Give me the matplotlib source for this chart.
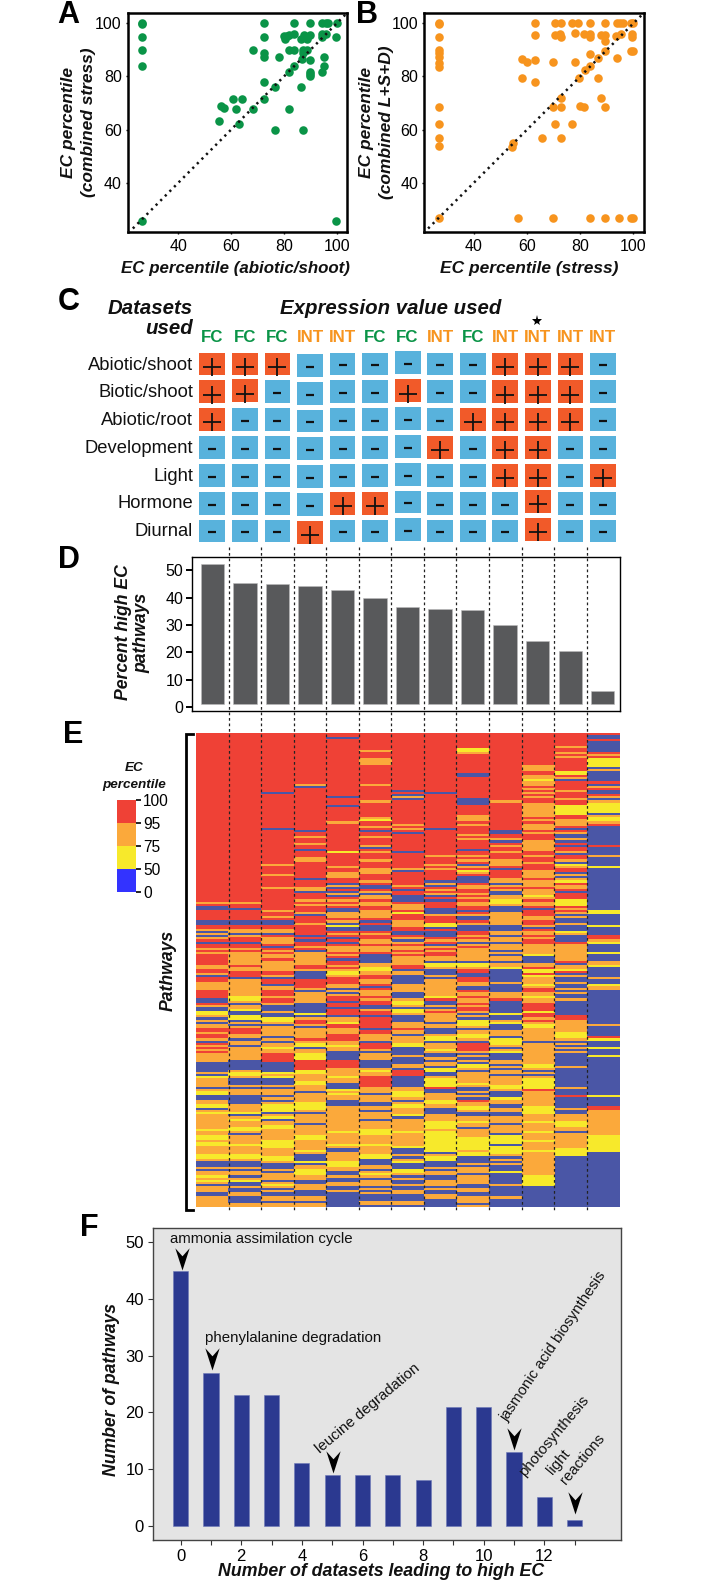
import numpy as np
import matplotlib
matplotlib.use("Agg")
import matplotlib.pyplot as plt
from matplotlib.colors import ListedColormap
from matplotlib.path import Path
from matplotlib.patches import Rectangle

plt.rcParams["font.family"] = ["Liberation Sans", "DejaVu Sans"]

# Panel A
a_x = [26.1, 26.1, 26.1, 26.1, 26.1, 26.1, 99.7, 72.3, 72.3, 68.4, 72.3, 72.3, 78.3, 72.3, 76.8, 72.3,
       68.4, 76.8, 87.4, 62.9, 82, 86.4, 60.8, 64.1, 56, 57.3, 55.3, 62, 84, 90, 94.4, 96, 96.6, 100, 99.8,
       80, 81, 80.4, 84, 82, 86.4, 87.6, 88.9, 90, 94.4, 94.4, 96, 82, 84, 87.4, 88.6, 87.4, 86.7, 89.9,
       95, 95, 94.3, 89.9, 89.9, 89.9, 84, 82]
a_y = [100, 99.7, 95, 90, 84, 25.7, 25.7, 100, 95, 90, 89, 87.2, 87.5, 78, 76, 71.5,
       67.6, 60, 60, 62, 67.6, 76, 71.5, 71.5, 69, 68.1, 63.2, 67.6, 100, 100, 100, 100, 100, 100, 95,
       95.4, 95.4, 94, 95.9, 95.6, 94, 95.6, 94, 95.6, 96, 94.7, 96, 90, 90, 90, 90, 88.7, 86.4, 86.2,
       87.5, 84, 81.8, 81.8, 81, 80, 84, 81.8]

# Panel B
b_x = [27, 27, 27, 27, 27, 27, 27, 27, 27, 27, 27, 27, 27,
       56.4, 69.7, 83.5, 89.4, 94.6, 99, 100,
       63.1, 70.5, 72.6, 76.8, 79.3, 83.5, 89.3, 93.7, 95, 96.2, 99, 100,
       63.1, 70.5, 72.4, 72.8, 78, 81.5, 83.5, 83.5, 88, 89.3, 89.3, 93.5, 95.2, 99.6, 99.6,
       89.3, 99, 100, 83.5, 93.7, 86.8, 83.5, 81.8, 79.5, 86.8,
       58, 59.8, 63.1, 69.7, 78, 58, 63.1,
       72.8, 88, 69.7, 72.8, 79.9, 81.5, 89.3,
       70.5, 76.8, 65.7, 72.6, 54.7, 54.4]
b_y = [100, 99.7, 95, 90, 88.7, 87.2, 85.2, 83.7, 68.6, 62, 56.7, 53.8, 26.5,
       26.5, 26.5, 26.5, 26.5, 26.5, 26.5, 26.5,
       100, 100, 100, 100, 100, 100, 100, 100, 100, 100, 100, 100,
       95.6, 95.6, 95.9, 94.7, 96.2, 95.9, 95.9, 94.7, 95.6, 95.6, 93.5, 95.4, 96, 96, 94.7,
       89.7, 89.7, 89.7, 88.5, 86.8, 86.8, 84, 82.5, 79.3, 79.3,
       86.7, 85.6, 86.2, 85.6, 85.6, 79.3, 78,
       72, 72, 68.6, 68.6, 69, 68.6, 68.6,
       62, 62, 56.7, 56.7, 54.8, 53.3]

# Panel C
column_types = ["FC", "FC", "FC", "INT", "INT", "FC", "FC", "INT", "FC", "INT", "INT", "INT", "INT"]
dataset_names = ["Abiotic/shoot", "Biotic/shoot", "Abiotic/root", "Development", "Light", "Hormone", "Diurnal"]
abiotic_shoot = "+++------+++-"
biotic_shoot = "++----+--+++-"
abiotic_root = "+-------++++-"
development = "-------+-++--"
light = "---------++-+"
hormone = "----++----+--"
diurnal = "---+------+--"
dataset_rows = [abiotic_shoot, biotic_shoot, abiotic_root, development, light, hormone, diurnal]

# Panel D
percent_high = [52.5, 45.5, 45.1, 44.2, 43, 40, 36.5, 36, 35.5, 30, 24, 20.5, 6]

# Panel E, rows of each column written as colour runs (R >95, O >75, Y >50, B rest)
heat_top = [
    "R80 O1 R1 B2 R5 B2 R2 O1 B1 O1 B1 O1 R1 B1 R2 O1 R1 O1 R3",
    "R80 O1 R2 B1 R5 B2 R2 O2 B1 O1 R2 B1 R2 O1 R1 O4",
    "R28 B1 R16 B1 R16 O1 R4 O1 R5 O1 R10 O1 R2 O1 R1 B2 R2 O2 B1 R1 O3 R1 B1 R1 O1 R1 O2 R1 O3",
    "R24 O1 B1 R20 B1 R2 O1 R2 O1 R2 B1 R3 O2 R8 B1 R3 O1 O1 B1 R3 O1 R1 O1 R3 O1 B1 R3 O1 R5 B1 R1 B1 R2 O1 R1 B1 O4",
    "R2 B1 R27 B1 R3 B1 R7 O1 R13 Y1 R6 O1 R2 O3 R2 B1 O1 B1 R1 B1 O1 B1 R1 O1 R1 O1 R1 B2 O3 R1 O1 B1 Y1 B2 R1 O1 R1 B1 R1 B1 R1 O3 R1 O1 R1 B1 R1 O2",
    "R8 O1 R3 O3 R9 O1 R7 O1 R7 O1 Y1 R2 O1 R1 B1 R2 O1 R3 O1 B1 R1 O1 R3 O1 R3 O3 R3 O1 R1 B2 R1 O1 B1 O2 R1 O2 R2 O4 R1 B1 R1 B3 R1 O1 R2 O2 R1 O3 R1 B3",
    "R27 B1 R1 B1 O1 B1 R11 O1 R1 O1 R1 B1 R8 B1 R7 O1 B1 R6 O1 R1 B1 R2 B3 R1 O3 R1 Y1 R3 O3 R2 B2 R1 O1 B1 O1 R1 O2 R1 O1 R1 O3 R1 O1 R1 O3",
    "R28 B1 R16 B1 R12 O1 R3 O1 R1 O1 R5 B1 O1 B1 R1 O1 R1 O1 B1 R1 B1 R3 B3 O1 R3 Y2 B1 R1 B3 R1 O1 R1 B1 O1 R1 O1 R2 O3 R1 O1 R1 B1 O1 R1 Y2",
    "R7 Y2 O1 R9 B2 R10 B3 R5 O3 R1 O1 R4 O1 R1 O1 R4 B1 R2 O1 R1 O1 R1 B1 O1 R1 Y1 O1 R1 B3 R1 O1 O1 R2 O1 R1 O1 R1 O1 O1 R2 B1 R1 O1 B2 R1 O1 B3 R2 O1 R1 O1 B1 O1 R1 O1",
    "R32 O1 R13 B2 R2 O1 B1 R1 O1 R2 O1 R3 O3 R1 B1 R4 O2 B1 O1 R1 O1 B2 O2 Y2 O1 B3 O6 B3 O2 B1 O2 B1 O3 B1 O1 B1 O3",
    "R15 O3 R2 O2 Y1 O2 R1 O1 R1 O1 R1 O1 R2 O7 R1 O1 R1 O3 R1 O1 R3 O5 R2 O1 R2 O1 R3 O4 R1 O3 R1 O1 O2 Y1 O1 R1 O2 R1 B1 R3 O2 R2 O1 B1 R1 O2 R1 O1 R2 O5 Y1 B2",
    "R6 O1 R2 O1 R1 O1 R6 Y2 R1 O1 B1 R4 O1 R3 O1 R2 Y5 R2 O3 R1 B1 R1 O1 B2 O1 B1 R1 B1 R2 O1 B1 R2 O1 B1 Y1 O1 R2 B1 O1 B1 O1 Y1 R1 O2 R1 B1 R3 Y3 R1 O1 R1 O1 B1 O1 B2 O1 B3 Y1 O1 B3 R1 O2",
    "R1 B2 R1 B5 R1 O1 R1 Y4 B1 O1 B5 R1 B1 O1 R1 B2 R1 O1 B1 O1 Y5 B1 O1 Y2 O1 R1 B9 R1 B4 O1 B4 Y1 B20 Y2 B5 Y1 B4 R2 O1 Y1 B4 Y1 B3",
]
heat_bottom = [
    "R2 O2 R2 O1 B1 R2 O4 R4 B2 R1 O1 B2 Y2 O1 B1 O1 B1 O2 R2 O1 R2 O1 B1 R1 O1 R1 O1 R1 O4 B5 O1 B1 Y1 O1 O3 B1 O1 Y2 B2 O2 Y2 B1 O1 Y1 O7 Y1 O2 Y2 O1 Y2 O4 Y2 O1 B3 O1 B1 O2 Y1 O1 Y1 O1 B1 O3 B2 O2",
    "O2 R1 O2 R3 B1 O2 O5 O1 Y2 O1 B1 O2 Y1 B2 Y2 B1 O1 B1 O1 R3 O2 B1 O2 B1 O6 B5 O1 Y2 O1 B3 O1 B1 O3 B3 B1 O3 O1 Y1 B1 O1 Y1 O3 Y2 O1 B1 O4 Y1 O4 Y2 O1 B3 O1 B1 O2 B1 O1 Y1 B2 O1 B2 O2 B3 O3 B2 O1 B1 O1 B1 O1 B2",
    "O5 R2 O1 B1 R2 B1 O2 R3 O1 R2 O1 B3 O1 B2 Y2 O1 B1 O5 B1 O1 B1 O2 Y1 O2 R4 B5 Y1 O1 Y1 B3 O1 B1 O3 B1 O1 B1 O1 Y4 B1 O1 Y1 B1 O2 Y2 O2 O3 Y4 O4 Y2 O1 B3 O1 B1 O3 B1 O1 Y1 O1 B1 O1 B2 O2 B1 O3 B2 O1 B1 O4",
    "O2 R2 O1 B4 R4 O1 B1 O5 B5 Y1 B1 O1 R2 O1 B1 O5 R1 O1 Y2 B1 O2 Y3 R5 Y2 O3 Y2 O3 B1 O2 O2 Y4 O1 B1 O4 B1 O5 Y2 O5 Y1 O1 B3 Y1 B1 O2 Y3 O2 B2 O2 O1 B1 B2 O2 B1 O2 B2 O1 B2",
    "R2 O1 R1 O1 Y2 O1 R3 O2 B1 O1 B1 O1 R2 B1 R2 B1 R2 R1 B1 O2 Y1 R2 O3 R3 O1 O1 Y1 O2 B4 R4 O4 Y1 O2 B3 Y1 O1 Y1 O1 O1 B3 O1 O3 O8 Y1 O5 Y1 O1 B2 O4 Y3 O2 B2 O1 B2 O2 B2 O1 B2 B1",
    "B1 O2 Y2 O2 R2 O2 R1 B1 R1 O3 R1 O1 R2 B2 O1 R2 B1 R3 R2 B1 R2 O3 B1 R3 O1 B1 O3 B4 O1 Y1 O2 R5 O3 B1 O2 O1 B2 O2 B1 O1 O2 B1 O1 O3 Y3 O4 Y1 O4 Y2 B3 O2 B1 O1 Y1 O1 B1 O3 B1 O1 B1 O1 B3 O2 B2 O5",
    "O2 R2 B1 O2 B4 O4 B3 O1 Y2 O1 B1 Y2 O1 B3 O3 R1 O2 B1 O3 Y2 B4 O1 B1 B2 O2 B1 R3 B5 O2 Y3 O1 B1 O1 Y2 O3 Y1 B1 O1 O5 Y1 O6 Y1 B3 O1 B1 O1 Y1 B3 Y2 O1 B1 O1 B2 O1 B2 O2 B3 O2 B2 B6",
    "B1 Y2 O1 B3 O1 B1 O3 O5 Y1 R1 B2 O1 B1 O1 R1 O4 B1 O2 B3 O1 Y2 B1 O3 Y1 O1 B2 O1 B1 O2 B1 Y2 B2 O1 Y4 R1 B2 O3 Y2 O2 B3 O3 Y4 O1 Y10 B1 O1 Y2 B3 O1 B1 O1 O1 B2 O3 B1 O1 B2 O2 B7",
    "B1 Y2 O1 R2 B2 R2 O2 B2 R1 O2 R1 O2 R1 O1 R2 O1 B1 O1 B1 Y3 O1 B1 O2 Y2 O1 B1 R4 O1 B1 O1 B1 O1 B1 Y2 O1 B1 O1 O4 Y1 O1 B2 O1 B1 O1 B1 R1 O2 Y2 O1 B2 O2 Y1 O2 B1 O4 Y6 O1 Y2 B3 O1 B1 O3 B1 O4 B2 O2 B2 O3 B1 O3",
    "B1 O2 Y1 B6 O1 B4 O3 R1 B6 Y1 B2 O1 Y1 B3 O3 B1 Y3 O1 B1 O1 Y1 B3 O2 B1 O1 B1 O2 B1 O1 O2 O1 Y2 O1 B3 Y1 O2 B2 O2 B2 O3 B1 O1 O3 B1 Y4 B1 Y4 O1 B1 O1 B1 O1 B3 Y1 B5 O1 B5 O1 B1 B12",
    "B1 O2 R1 Y2 R1 Y1 O3 Y1 O1 R2 O2 Y1 O2 R1 R3 Y1 R2 O1 R1 O1 Y2 O6 B1 O1 O9 Y2 O1 B1 O1 B1 O1 Y5 R1 O7 Y4 O3 Y1 O4 Y1 O3 Y1 O4 Y1 O4 O7 Y5 B7",
    "R1 B1 O2 Y1 R1 B1 O1 B2 O1 B2 O1 B1 O1 B2 O1 B7 R2 O5 O1 Y3 O1 B1 O1 B1 O1 B1 O1 B6 O1 B9 O1 B3 R1 B5 O1 B2 O3 Y3 O2 B1 O1 O4 O2 Y4 B20",
    "O2 Y1 B5 O1 B2 Y1 O2 B1 B15 O1 B5 R1 Y1 B3 Y1 B3 Y1 B18 Y1 B4 R2 O12 Y8 B25",
]
heat_colors = {"R": 0, "O": 1, "Y": 2, "B": 3}
heat_palette = ["#EF4136", "#FBA93B", "#F7E92B", "#4A56A6"]

legend_levels = ["100", "95", "75", "50", "0"]
legend_palette = ["#EF4136", "#FBA93B", "#F7E92B", "#3333FF"]

# Panel F
n_datasets = [0, 1, 2, 3, 4, 5, 6, 7, 8, 9, 10, 11, 12, 13]
n_pathways = [45, 27, 23, 23, 11, 9, 9, 9, 8, 21, 21, 13, 5, 1]
arrow_x = [0.03, 1.04, 5.03, 11.0, 13.02]
arrow_y = [45.2, 27.5, 9.3, 13.3, 2]


def expand_runs(text, n):
    out = []
    for item in text.split():
        out += [heat_colors[item[0]]] * int(item[1:])
    out = out[:n]
    out += [out[-1]] * (n - len(out))
    return out


W, H = 710, 1584
fig = plt.figure(figsize=(W / 100, H / 100), dpi=100)


def px_axes(x0, y0, x1, y1):
    return fig.add_axes([x0 / W, 1 - y1 / H, (x1 - x0) / W, (y1 - y0) / H])


GREEN = "#0A9447"
ORANGE = "#F7941E"


# A and B scatter
def scatter_panel(box, xs, ys, color, xlim, ylim):
    ax = px_axes(*box)
    ax.scatter(xs, ys, s=38, color=color, linewidths=0, zorder=2)
    ax.plot([21, 104], [21, 104], color="#111111", lw=1.8, ls=(0, (0.9, 1.7)), zorder=3)
    ax.set_xlim(xlim)
    ax.set_ylim(ylim)
    ax.set_xticks([40, 60, 80, 100])
    ax.set_yticks([40, 60, 80, 100])
    ax.tick_params(labelsize=11.5, length=1.5, width=1, pad=3, color="black")
    for s in ax.spines.values():
        s.set_linewidth(1.8)
    return ax


scatter_panel((128, 13.3, 347, 232.3), a_x, a_y, GREEN, (20.9, 103.9), (21.3, 103.8))
scatter_panel((424.3, 13.3, 643.7, 232.3), b_x, b_y, ORANGE, (21.3, 103.9), (21.3, 103.8))

# C grid
ax_c = px_axes(196, 350.1, 619.3, 544.9)
ax_c.set_xlim(0, 13)
ax_c.set_ylim(7, 0)
ax_c.axis("off")
cell_w, cell_h = 0.79, 0.82
for r, row in enumerate(dataset_rows):
    for c, sign in enumerate(row):
        y_shift = 0.05 if c == 3 else (-0.04 if c == 6 else 0)
        if c == 10 and r >= 5:
            y_shift = -0.06
        if c == 1 and r == 1:
            y_shift = -0.04
        is_on = sign == "+"
        ax_c.add_patch(Rectangle((c + 0.5 - cell_w / 2, r + 0.5 - cell_h / 2 + y_shift), cell_w, cell_h,
                                 facecolor="#F15A29" if is_on else "#58B2DC", edgecolor="none"))
        if is_on:
            ax_c.plot(c + 0.5, r + 0.6 + y_shift, marker="+", ms=13.5, mew=1.3, color="#111111")
        else:
            ax_c.plot(c + 0.5, r + 0.55 + y_shift, marker="_", ms=5.5, mew=1.6, color="#111111")

# D bars
ax_d = px_axes(192.3, 556.7, 619.7, 711.3)
ax_d.bar(range(13), np.array(percent_high) - 1, bottom=1, width=0.72, color="#58595B", edgecolor="#BBBBBB", linewidth=0.4)
ax_d.set_xlim(-0.614, 12.52)
ax_d.set_ylim(-1.57, 55.05)
ax_d.set_xticks([])
ax_d.set_yticks([0, 10, 20, 30, 40, 50])
ax_d.tick_params(labelsize=11.5, length=4.5, width=1.4, pad=2)
for s in ax_d.spines.values():
    s.set_linewidth(1.0)

# E heatmap
ax_e = px_axes(196, 733.3, 619.3, 1207.3)
n_top, n_bottom = 108, 117
heat = np.array([expand_runs(t, n_top) + expand_runs(b, n_bottom) for t, b in zip(heat_top, heat_bottom)]).T
ax_e.imshow(heat, aspect="auto", interpolation="nearest", cmap=ListedColormap(heat_palette), vmin=0, vmax=3)
ax_e.axis("off")

# E legend
ax_l = px_axes(117.3, 800, 135.7, 892)
ax_l.imshow(np.arange(4).reshape(4, 1), aspect="auto", cmap=ListedColormap(legend_palette), vmin=0, vmax=3,
            extent=(0, 1, 4, 0))
ax_l.set_xticks([])
ax_l.yaxis.tick_right()
ax_l.set_yticks(range(5))
ax_l.set_yticklabels(legend_levels)
ax_l.tick_params(labelsize=11.2, length=3.5, width=1.2, pad=2)
for s in ax_l.spines.values():
    s.set_visible(False)

# F bars
ax_f = px_axes(153, 1228.3, 621, 1540)
ax_f.set_facecolor("#E4E4E4")
ax_f.bar(n_datasets, n_pathways, width=0.5, color="#2B3990", edgecolor="#6C78B8", linewidth=0.4)
arrow_marker = Path([(0, 0), (-0.58, 1.8), (0, 1.15), (0.58, 1.8), (0, 0)], closed=True)
ax_f.plot(arrow_x, arrow_y, ls="none", marker=arrow_marker, ms=32, color="black", mew=0)
ax_f.set_xlim(-0.914, 14.53)
ax_f.set_ylim(-2.5, 52.5)
ax_f.set_xticks(n_datasets)
ax_f.set_xticklabels([str(v) if v % 2 == 0 else "" for v in n_datasets])
ax_f.set_yticks([0, 10, 20, 30, 40, 50])
ax_f.tick_params(labelsize=12, length=3.5, width=0.8, pad=3, color="#333333")
for s in ax_f.spines.values():
    s.set_linewidth(1.0)
    s.set_color("#444444")

# overlay in pixels for the loose text, bracket and dotted guides
ov = fig.add_axes([0, 0, 1, 1], zorder=10)
ov.set_xlim(0, W)
ov.set_ylim(H, 0)
ov.axis("off")
ov.patch.set_alpha(0)

for k in range(1, 13):
    xk = 196 + 32.55 * k
    ov.plot([xk, xk], [547, 1212], color="#222222", lw=0.9, ls=(0, (2.2, 2.2)))

ov.plot([193, 186, 186, 193], [733.5, 733.5, 1209.5, 1209.5], color="black", lw=2, solid_joinstyle="miter")

bi = dict(fontweight="bold", fontstyle="italic", color="#111111")
for letter, x, y in [("A", 57, 15), ("B", 356, 15), ("C", 58, 302), ("D", 58, 560), ("E", 63, 735), ("F", 80, 1228)]:
    ov.text(x, y, letter, fontsize=22, fontweight="bold", ha="left", va="center")

ov.text(68, 122, "EC percentile", fontsize=12.5, rotation=90, ha="center", va="center", **bi)
ov.text(88, 122, "(combined stress)", fontsize=12.5, rotation=90, ha="center", va="center", **bi)
ov.text(235, 268, "EC percentile (abiotic/shoot)", fontsize=12.2, ha="center", va="center", **bi)
ov.text(367, 122, "EC percentile", fontsize=12.5, rotation=90, ha="center", va="center", **bi)
ov.text(386, 122, "(combined L+S+D)", fontsize=12.5, rotation=90, ha="center", va="center", **bi)
ov.text(529, 268, "EC percentile (stress)", fontsize=12.5, ha="center", va="center", **bi)

ov.text(391, 309, "Expression value used", fontsize=14.7, ha="center", va="center", **bi)
ov.text(193, 309, "Datasets", fontsize=14.7, ha="right", va="center", **bi)
ov.text(193, 329, "used", fontsize=14.7, ha="right", va="center", **bi)
for c, label in enumerate(column_types):
    ov.text(212.3 + 32.55 * c, 337, label, fontsize=12.2, fontweight="bold", ha="center", va="center",
            color=GREEN if label == "FC" else ORANGE)
ov.plot([537], [321], marker="*", ms=8, color="black", mew=0)
for r, name in enumerate(dataset_names):
    ov.text(193, 365 + 27.8 * r, name, fontsize=13.2, ha="right", va="center", color="#111111")

ov.text(124, 632, "Percent high EC", fontsize=12.7, rotation=90, ha="center", va="center", **bi)
ov.text(142, 633, "pathways", fontsize=12.7, rotation=90, ha="center", va="center", **bi)

ov.text(134, 768, "EC", fontsize=9.7, ha="center", va="center", **bi)
ov.text(134, 785, "percentile", fontsize=9.7, ha="center", va="center", **bi)
ov.text(168, 970, "Pathways", fontsize=12.7, rotation=90, ha="center", va="center", **bi)

ov.text(111, 1390, "Number of pathways", fontsize=12.7, rotation=90, ha="center", va="center", **bi)
ov.text(381, 1572, "Number of datasets leading to high EC", fontsize=12.8, ha="center", va="center", **bi)

note = dict(fontsize=10.8, ha="center", va="center", color="#111111", rotation_mode="anchor")
ov.text(170, 1239, "ammonia assimilation cycle", fontsize=10.8, ha="left", va="center", color="#111111")
ov.text(205, 1338, "phenylalanine degradation", fontsize=10.8, ha="left", va="center", color="#111111")
ov.text(368, 1408, "leucine degradation", rotation=40, **note)
ov.text(553, 1346, "jasmonic acid biosynthesis", rotation=56, **note)
ov.text(554, 1436, "photosynthesis", rotation=50, **note)
ov.text(559, 1462, "light", rotation=50, **note)
ov.text(583, 1459, "reactions", rotation=50, **note)

fig.savefig("out.png", dpi=100)
